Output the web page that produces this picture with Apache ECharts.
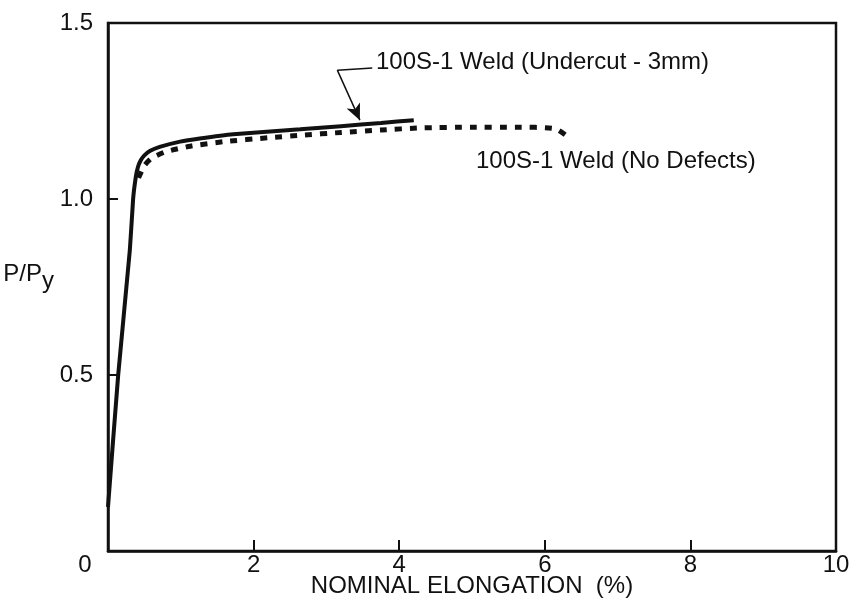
<!DOCTYPE html>
<html>
<head>
<meta charset="utf-8">
<script src="https://cdn.jsdelivr.net/npm/echarts@6/dist/echarts.min.js"></script>
<style>
  html, body { margin: 0; padding: 0; background: #fff; }
  #chart { width: 857px; height: 603px; }
</style>
</head>
<body>
<div id="chart"></div>
<script>
// undercut weld - solid curve
const undercutX = [0, 0.14, 0.30, 0.345, 0.38, 0.41, 0.45, 0.50, 0.58, 0.71, 0.99, 1.26, 1.72, 2.64, 3.2, 3.75, 4.2];
const undercutY = [0.125, 0.5, 0.855, 1.0, 1.06, 1.09, 1.11, 1.124, 1.137, 1.148, 1.163, 1.172, 1.184, 1.198, 1.207, 1.216, 1.224];

// weld without defects - dashed curve
const noDefectX = [0.42, 0.5, 0.6, 0.79, 1.13, 1.6, 2.2, 2.65, 3.2, 3.75, 4.3, 5.0, 5.6, 6.14, 6.34];
const noDefectY = [1.06, 1.095, 1.116, 1.134, 1.15, 1.163, 1.174, 1.181, 1.189, 1.196, 1.202, 1.204, 1.204, 1.2, 1.173];

const xTicks = [0, 2, 4, 6, 8, 10];
const yTicks = [0, 0.5, 1.0, 1.5];

const labelUndercut = "100S-1 Weld (Undercut - 3mm)";
const labelNoDefect = "100S-1 Weld (No Defects)";

// arrow: elbow -> tip, plus short horizontal leader to the label
const leaderFrom = [3.63, 1.372];
const leaderElbow = [3.15, 1.366];
const arrowTip = [3.46, 1.224];

const FONT = "'Liberation Sans', Arial, sans-serif";
const INK = "#111";
const FS = 24;

const pairs = (xs, ys) => xs.map((x, i) => [x, ys[i]]);

const chart = echarts.init(document.getElementById("chart"));

chart.setOption({
  animation: false,
  backgroundColor: "#fff",
  grid: {
    left: 108, right: 21, top: 23, bottom: 52,
    outerBoundsMode: "none",
    containLabel: false,
    show: true, borderColor: INK, borderWidth: 2.5, backgroundColor: "transparent"
  },
  xAxis: {
    type: "value",
    min: xTicks[0], max: xTicks[xTicks.length - 1], interval: 2,
    name: "NOMINAL ELONGATION  (%)",
    nameLocation: "middle",
    nameGap: 35,
    nameMoveOverlap: false,
    nameTextStyle: { color: INK, fontFamily: FONT, fontSize: FS, verticalAlign: "middle" },
    axisLine: { lineStyle: { color: INK, width: 2.5 } },
    axisTick: { inside: true, length: 11, lineStyle: { color: INK, width: 2 } },
    axisLabel: {
      color: INK, fontFamily: FONT, fontSize: FS, margin: 2,
      formatter: (v) => (v === 0 ? "{z|0}" : String(v)),
      rich: { z: { fontFamily: FONT, fontSize: FS, color: INK, padding: [0, 46, 0, 0] } }
    },
    splitLine: { show: false }
  },
  yAxis: {
    type: "value",
    min: yTicks[0], max: yTicks[yTicks.length - 1], interval: 0.5,
    name: "{a|P/P}{b|y}",
    nameLocation: "middle",
    nameRotate: 0,
    nameGap: 54,
    nameMoveOverlap: false,
    nameTextStyle: {
      padding: [0, 0, 26, 0],
      rich: {
        a: { fontFamily: FONT, fontSize: FS, color: INK },
        b: { fontFamily: FONT, fontSize: FS, color: INK, padding: [14, 0, 0, 0] }
      }
    },
    axisLine: { lineStyle: { color: INK, width: 2.5 } },
    axisTick: { inside: true, length: 10, lineStyle: { color: INK, width: 2 } },
    axisLabel: {
      color: INK, fontFamily: FONT, fontSize: FS, margin: 15,
      formatter: (v) => (v === 0 ? "" : v.toFixed(1))
    },
    splitLine: { show: false }
  },
  series: [
    {
      name: labelNoDefect,
      type: "line",
      data: pairs(noDefectX, noDefectY),
      smooth: 0.2,
      showSymbol: false,
      lineStyle: { color: INK, width: 5, type: [7, 8] },
      z: 2
    },
    {
      name: labelUndercut,
      type: "line",
      data: pairs(undercutX, undercutY),
      smooth: 0.15,
      showSymbol: false,
      lineStyle: { color: INK, width: 4 },
      z: 3,
      markLine: {
        silent: true,
        animation: false,
        label: { show: false },
        lineStyle: { color: INK, width: 1.5, type: "solid" },
        symbolSize: [11, 16],
        data: [
          [{ coord: leaderFrom, symbol: "none" }, { coord: leaderElbow, symbol: "none" }],
          [{ coord: leaderElbow, symbol: "none" }, { coord: arrowTip, symbol: "arrow" }]
        ]
      }
    }
  ],
  graphic: [
    {
      type: "text", left: 376, top: 50,
      style: { text: labelUndercut, fill: INK, font: FS + "px " + FONT }
    },
    {
      type: "text", left: 476, top: 149,
      style: { text: labelNoDefect, fill: INK, font: FS + "px " + FONT }
    }
  ]
});
</script>
</body>
</html>
